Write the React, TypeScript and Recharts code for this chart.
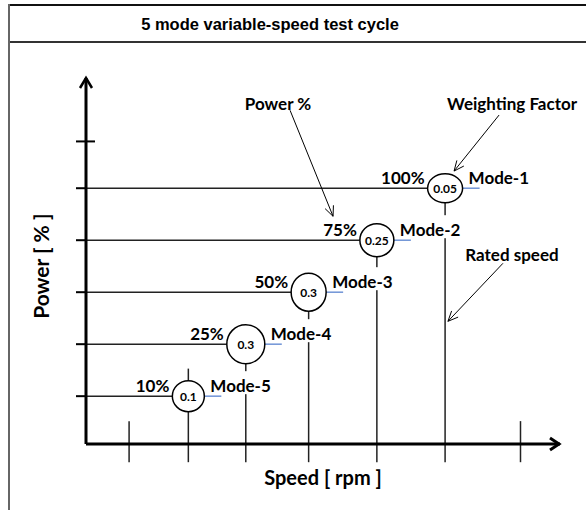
import React from 'react';
import { ComposedChart, XAxis, YAxis, Scatter, ReferenceLine, ReferenceDot } from 'recharts';

// ---------- data ----------
const chartTitle = '5 mode variable-speed test cycle';
const xTitle = 'Speed [ rpm ]';
const yTitle = 'Power [ % ]';

const modeNames = ['Mode-1', 'Mode-2', 'Mode-3', 'Mode-4', 'Mode-5'];
const powerLabels = ['100%', '75%', '50%', '25%', '10%'];
const modeSpeeds = [100, 81, 62, 44.5, 28.5];
const modeLevels = [5, 4, 3, 2, 1];
const weightingFactors = ['0.05', '0.25', '0.3', '0.3', '0.1'];

const plainSpeedTicks = [12, 121];
const powerTicks = [1, 2, 3, 4, 5, 5.9];

const annotationTexts = ['Power %', 'Weighting Factor', 'Rated speed'];
const annotationTargetSpeeds = [68.8, 102.5, 100.8];
const annotationTargetLevels = [4.46, 5.33, 2.44];

const X_DOMAIN: [number, number] = [0, 132];
const Y_DOMAIN: [number, number] = [0.08, 7.12];

// ---------- styles ----------
const FONT = 'Lato, "Open Sans", sans-serif';
const markerRadii = [
  [17.5, 14.5],
  [17, 16.5],
  [17.5, 19],
  [19, 19.5],
  [16, 15.5],
];
const annotationGeometry = [
  { tail: [-43, -106], label: [-55, -113] },
  { tail: [45, -56], label: [58, -68] },
  { tail: [55, -58], label: [64, -67] },
];

const modeRows = modeNames.map((name, i) => ({
  name,
  idx: i,
  speed: modeSpeeds[i],
  level: modeLevels[i],
  pct: powerLabels[i],
  wf: weightingFactors[i],
}));

const EmptyTick = () => <g />;

function ModeMarker(props: any) {
  const { cx, cy, payload } = props;
  if (cx == null || cy == null || !payload) return <g />;
  const [rx, ry] = markerRadii[payload.idx];
  return (
    <g>
      <line x1={cx + rx} y1={cy} x2={cx + rx + 17} y2={cy} stroke="#6f93d6" strokeWidth={1.5} />
      <ellipse cx={cx} cy={cy} rx={rx} ry={ry} fill="#fff" stroke="#000" strokeWidth={1.5} />
      <text x={cx} y={cy + 0.5} textAnchor="middle" dominantBaseline="central" fontFamily={FONT} fontWeight={700} fontSize={12} fill="#000">
        {payload.wf}
      </text>
      <rect x={cx + rx + 4} y={cy - 25} width={66} height={23} fill="#fff" />
      <text x={cx + rx + 6} y={cy - 11} dominantBaseline="central" fontFamily={FONT} fontWeight={700} fontSize={17} fill="#000">
        {payload.name}
      </text>
      <text x={cx - rx - 3} y={cy - 11} textAnchor="end" dominantBaseline="central" fontFamily={FONT} fontWeight={700} fontSize={17} fill="#000">
        {payload.pct}
      </text>
    </g>
  );
}

function Annotation(props: any) {
  const { cx, cy, idx } = props;
  if (cx == null || cy == null) return <g />;
  const g = annotationGeometry[idx];
  const sx = cx + g.tail[0];
  const sy = cy + g.tail[1];
  const ang = Math.atan2(sy - cy, sx - cx);
  const L = 11;
  const spread = 0.42;
  const w1x = cx + L * Math.cos(ang + spread);
  const w1y = cy + L * Math.sin(ang + spread);
  const w2x = cx + L * Math.cos(ang - spread);
  const w2y = cy + L * Math.sin(ang - spread);
  return (
    <g>
      <line x1={sx} y1={sy} x2={cx} y2={cy} stroke="#000" strokeWidth={1} />
      <polyline points={`${w1x},${w1y} ${cx},${cy} ${w2x},${w2y}`} fill="none" stroke="#000" strokeWidth={1} />
      <text x={cx + g.label[0]} y={cy + g.label[1]} textAnchor="middle" dominantBaseline="central" fontFamily={FONT} fontWeight={700} fontSize={17} fill="#000">
        {annotationTexts[idx]}
      </text>
    </g>
  );
}

const UpArrow = (p: any) =>
  p.cx == null ? <g /> : (
    <polyline points={`${p.cx - 6},${p.cy + 10} ${p.cx},${p.cy} ${p.cx + 6},${p.cy + 10}`} fill="none" stroke="#000" strokeWidth={2.5} />
  );
const RightArrow = (p: any) =>
  p.cx == null ? <g /> : (
    <polyline points={`${p.cx - 10},${p.cy - 6} ${p.cx - 1},${p.cy} ${p.cx - 10},${p.cy + 6}`} fill="none" stroke="#000" strokeWidth={3} />
  );

const XTitle = (p: any) =>
  p.cx == null ? <g /> : (
    <text x={p.cx} y={p.cy + 33} textAnchor="middle" dominantBaseline="central" fontFamily={FONT} fontWeight={700} fontSize={20} fill="#000">
      {xTitle}
    </text>
  );
const YTitle = (p: any) =>
  p.cx == null ? <g /> : (
    <text x={p.cx - 45} y={p.cy} textAnchor="middle" dominantBaseline="central" transform={`rotate(-90 ${p.cx - 45} ${p.cy})`} fontFamily={FONT} fontWeight={700} fontSize={21} fill="#000">
      {yTitle}
    </text>
  );

export default function App() {
  const lastIdx = modeRows.length - 1;
  return (
    <div style={{ position: 'fixed', left: 0, top: 0, width: 586, height: 510, overflow: 'hidden', background: '#fff' }}>
      <div style={{ position: 'absolute', left: 8, top: 4, width: 600, height: 2, background: '#111' }} />
      <div style={{ position: 'absolute', left: 8, top: 41, width: 600, height: 2, background: '#333' }} />
      <div style={{ position: 'absolute', left: 8, top: 4, width: 2, height: 520, background: '#666' }} />
      <div
        style={{
          position: 'absolute',
          left: 8,
          top: 6,
          width: 524,
          height: 37,
          lineHeight: '37px',
          textAlign: 'center',
          fontFamily: '"Liberation Sans", Arial, sans-serif',
          fontWeight: 700,
          fontSize: 16.5,
          color: '#000',
        }}
      >
        {chartTitle}
      </div>
      <div style={{ position: 'absolute', left: 0, top: 0 }}>
        <ComposedChart width={586} height={510} data={modeRows} margin={{ top: 78, right: 26, left: 76, bottom: 46 }}>
          <XAxis
            type="number"
            dataKey="speed"
            domain={X_DOMAIN}
            allowDataOverflow
            height={20}
            tick={false}
            tickLine={false}
            axisLine={{ stroke: '#000', strokeWidth: 3 }}
          />
          <YAxis
            type="number"
            dataKey="level"
            domain={Y_DOMAIN}
            allowDataOverflow
            width={10}
            ticks={powerTicks}
            interval={0}
            tickSize={10}
            tick={EmptyTick}
            tickLine={{ stroke: '#000', strokeWidth: 2 }}
            axisLine={{ stroke: '#000', strokeWidth: 3 }}
          />
          <ReferenceLine
            segment={[{ x: 0, y: powerTicks[powerTicks.length - 1] }, { x: 2.5, y: powerTicks[powerTicks.length - 1] }]}
            stroke="#000"
            strokeWidth={2}
            ifOverflow="visible"
          />
          {modeRows.map((r) => (
            <ReferenceLine
              key={`h-${r.name}`}
              segment={[{ x: 0, y: r.level }, { x: r.speed, y: r.level }]}
              stroke="#222"
              strokeWidth={1.5}
              ifOverflow="visible"
            />
          ))}
          {modeRows.map((r, i) => (
            <ReferenceLine
              key={`v-${r.name}`}
              segment={[{ x: r.speed, y: i === lastIdx ? r.level + 0.53 : r.level }, { x: r.speed, y: -0.27 }]}
              stroke="#222"
              strokeWidth={1.5}
              ifOverflow="visible"
            />
          ))}
          {plainSpeedTicks.map((s) => (
            <ReferenceLine
              key={`t-${s}`}
              segment={[{ x: s, y: 0.52 }, { x: s, y: -0.27 }]}
              stroke="#222"
              strokeWidth={1.5}
              ifOverflow="visible"
            />
          ))}
          <Scatter data={modeRows} dataKey="level" isAnimationActive={false} shape={(p: any) => <ModeMarker {...p} />} />
          {annotationTexts.map((t, i) => (
            <ReferenceDot
              key={`a-${t}`}
              x={annotationTargetSpeeds[i]}
              y={annotationTargetLevels[i]}
              r={1}
              ifOverflow="visible"
              shape={(p: any) => <Annotation {...p} idx={i} />}
            />
          ))}
          <ReferenceDot x={X_DOMAIN[0]} y={Y_DOMAIN[1]} r={1} ifOverflow="visible" shape={UpArrow} />
          <ReferenceDot x={X_DOMAIN[1]} y={Y_DOMAIN[0]} r={1} ifOverflow="visible" shape={RightArrow} />
          <ReferenceDot x={66} y={Y_DOMAIN[0]} r={1} ifOverflow="visible" shape={XTitle} />
          <ReferenceDot x={X_DOMAIN[0]} y={3.5} r={1} ifOverflow="visible" shape={YTitle} />
        </ComposedChart>
      </div>
    </div>
  );
}
